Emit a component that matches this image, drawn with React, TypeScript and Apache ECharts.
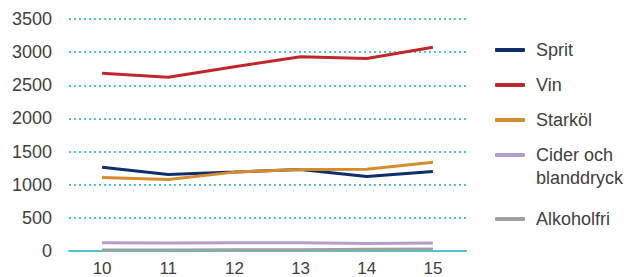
import React, { useEffect, useRef } from "react";
import * as echarts from "echarts";

const categories = ["10", "11", "12", "13", "14", "15"];
const sprit = [1265, 1155, 1190, 1230, 1125, 1200];
const vin = [2680, 2620, 2780, 2930, 2905, 3075];
const starkol = [1110, 1080, 1190, 1230, 1235, 1340];
const cider = [125, 120, 125, 125, 115, 120];
const alkoholfri = [15, 15, 20, 20, 25, 30];

const seriesNames = ["Sprit", "Vin", "Starköl", "Cider och blanddryck", "Alkoholfri"];
const seriesColors = ["#0e2f6e", "#c0272d", "#d68b2f", "#b49fcc", "#a0a1a3"];
const seriesData = [sprit, vin, starkol, cider, alkoholfri];

const FONT = "'Liberation Sans', Arial, Helvetica, sans-serif";
const TEXT_COLOR = "#404040";
const CYAN = "#4fc4cf";

export default function App() {
  const ref = useRef<HTMLDivElement>(null);
  useEffect(() => {
    if (!ref.current) return;
    const chart = echarts.init(ref.current, undefined, { renderer: "svg" });
    chart.setOption({
      animation: false,
      textStyle: { fontFamily: FONT },
      grid: { left: 69, right: 168, top: 19, bottom: 25, containLabel: false },
      xAxis: {
        type: "category",
        data: categories,
        boundaryGap: true,
        axisLine: { show: true, lineStyle: { color: CYAN, width: 2 } },
        axisTick: { show: false },
        axisLabel: { color: TEXT_COLOR, fontSize: 17, fontFamily: FONT, margin: 9 },
      },
      yAxis: {
        type: "value",
        min: 0,
        max: 3500,
        interval: 500,
        axisLine: { show: false },
        axisTick: { show: false },
        axisLabel: {
          color: TEXT_COLOR,
          fontSize: 18,
          fontFamily: FONT,
          margin: 17,
          formatter: (v: number) => String(v),
        },
        splitLine: {
          show: true,
          lineStyle: { color: CYAN, width: 2, type: [2, 3] },
        },
      },
      legend: [
        {
          orient: "vertical",
          left: 495,
          top: 40,
          padding: 0,
          itemGap: 15,
          itemWidth: 30,
          itemHeight: 4,
          icon: "roundRect",
          data: seriesNames.slice(0, 4),
          formatter: (name: string) => (name === "Cider och blanddryck" ? "Cider och" : name),
          textStyle: {
            color: TEXT_COLOR,
            fontSize: 18,
            fontFamily: FONT,
            lineHeight: 20,
            padding: [0, 0, 0, 6],
          },
          selectedMode: false,
        },
        {
          orient: "vertical",
          left: 495,
          top: 209,
          padding: 0,
          itemWidth: 30,
          itemHeight: 4,
          icon: "roundRect",
          data: [seriesNames[4]],
          textStyle: {
            color: TEXT_COLOR,
            fontSize: 18,
            fontFamily: FONT,
            lineHeight: 20,
            padding: [0, 0, 0, 6],
          },
          selectedMode: false,
        },
      ],
      graphic: [
        {
          type: "text",
          left: 536,
          top: 169,
          style: {
            text: "blanddryck",
            fill: TEXT_COLOR,
            fontSize: 18,
            fontFamily: FONT,
          },
        },
      ],
      series: seriesNames.map((name, i) => ({
        name,
        type: "line",
        data: seriesData[i],
        symbol: "none",
        showSymbol: false,
        color: seriesColors[i],
        lineStyle: { color: seriesColors[i], width: 3 },
        itemStyle: { color: seriesColors[i] },
      })),
    });
    return () => chart.dispose();
  }, []);
  return (
    <div
      ref={ref}
      style={{ position: "absolute", left: 0, top: 0, width: 634, height: 277 }}
    />
  );
}
